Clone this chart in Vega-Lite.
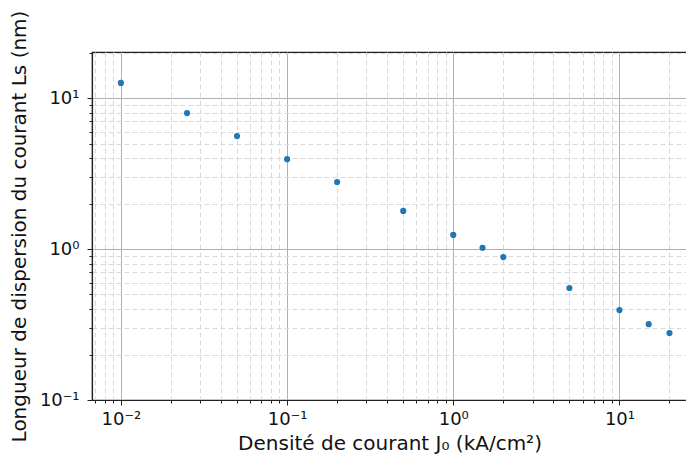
{
  "$schema": "https://vega.github.io/schema/vega-lite/v6.json",
  "autosize": "none",
  "width": 595,
  "height": 348,
  "padding": {"left": 92, "top": 52, "right": 0, "bottom": 62},
  "background": "white",
  "config": {
    "view": {"stroke": "#222", "strokeWidth": 1.2},
    "font": "DejaVu Sans",
    "axis": {
      "labelFont": "DejaVu Sans",
      "titleFont": "DejaVu Sans",
      "labelColor": "#111",
      "titleColor": "#111",
      "titleFontWeight": "normal",
      "domainColor": "#222",
      "tickColor": "#222"
    }
  },
  "data": {
    "values": [
      {"J": 0.01, "Ls": 12.6},
      {"J": 0.025, "Ls": 7.96},
      {"J": 0.05, "Ls": 5.6},
      {"J": 0.1, "Ls": 3.94},
      {"J": 0.2, "Ls": 2.78},
      {"J": 0.5, "Ls": 1.79},
      {"J": 1.0, "Ls": 1.24},
      {"J": 1.5, "Ls": 1.02},
      {"J": 2.0, "Ls": 0.885},
      {"J": 5.0, "Ls": 0.552},
      {"J": 10.0, "Ls": 0.394},
      {"J": 15.0, "Ls": 0.318},
      {"J": 20.0, "Ls": 0.278}
    ]
  },
  "mark": {"type": "circle", "color": "#1f77b4", "opacity": 1, "size": 38},
  "encoding": {
    "x": {
      "field": "J",
      "type": "quantitative",
      "scale": {"type": "log", "domain": [0.0067, 25.5], "nice": false},
      "axis": {
        "title": "Densité de courant  J₀ (kA/cm²)",
        "titleFontSize": 20,
        "titlePadding": 5,
        "labelFontSize": 18,
        "labelPadding": 5,
        "values": [0.007, 0.008, 0.009, 0.01, 0.02, 0.03, 0.04, 0.05, 0.06, 0.07, 0.08, 0.09, 0.1, 0.2, 0.3, 0.4, 0.5, 0.6, 0.7, 0.8, 0.9, 1, 2, 3, 4, 5, 6, 7, 8, 9, 10, 20],
        "labelExpr": "abs(datum.value-0.01)<1e-9 ? '10⁻²' : abs(datum.value-0.1)<1e-9 ? '10⁻¹' : abs(datum.value-1)<1e-9 ? '10⁰' : abs(datum.value-10)<1e-9 ? '10¹' : ''",
        "grid": true,
        "gridColor": {"condition": {"test": "abs(log(datum.value)/LN10 - round(log(datum.value)/LN10)) < 1e-6", "value": "#b0b0b0"}, "value": "#d9d9d9"},
        "gridDash": {"condition": {"test": "abs(log(datum.value)/LN10 - round(log(datum.value)/LN10)) < 1e-6", "value": []}, "value": [5, 3]},
        "gridWidth": 1,
        "tickSize": {"condition": {"test": "abs(log(datum.value)/LN10 - round(log(datum.value)/LN10)) < 1e-6", "value": 5}, "value": 3},
        "domainWidth": 1.2,
        "labelFlush": false,
        "labelOverlap": false
      }
    },
    "y": {
      "field": "Ls",
      "type": "quantitative",
      "scale": {"type": "log", "domain": [0.1, 20.2], "nice": false},
      "axis": {
        "title": "Longueur de dispersion du courant Ls (nm)",
        "titleFontSize": 20,
        "titlePadding": 10,
        "labelFontSize": 18,
        "labelPadding": 8,
        "values": [0.1, 0.2, 0.3, 0.4, 0.5, 0.6, 0.7, 0.8, 0.9, 1, 2, 3, 4, 5, 6, 7, 8, 9, 10, 20],
        "labelExpr": "abs(datum.value-0.1)<1e-9 ? '10⁻¹' : abs(datum.value-1)<1e-9 ? '10⁰' : abs(datum.value-10)<1e-9 ? '10¹' : ''",
        "grid": true,
        "gridColor": {"condition": {"test": "abs(log(datum.value)/LN10 - round(log(datum.value)/LN10)) < 1e-6", "value": "#b0b0b0"}, "value": "#d9d9d9"},
        "gridDash": {"condition": {"test": "abs(log(datum.value)/LN10 - round(log(datum.value)/LN10)) < 1e-6", "value": []}, "value": [5, 3]},
        "gridWidth": 1,
        "tickSize": {"condition": {"test": "abs(log(datum.value)/LN10 - round(log(datum.value)/LN10)) < 1e-6", "value": 5}, "value": 3},
        "domainWidth": 1.2,
        "labelFlush": false,
        "labelOverlap": false
      }
    }
  }
}
